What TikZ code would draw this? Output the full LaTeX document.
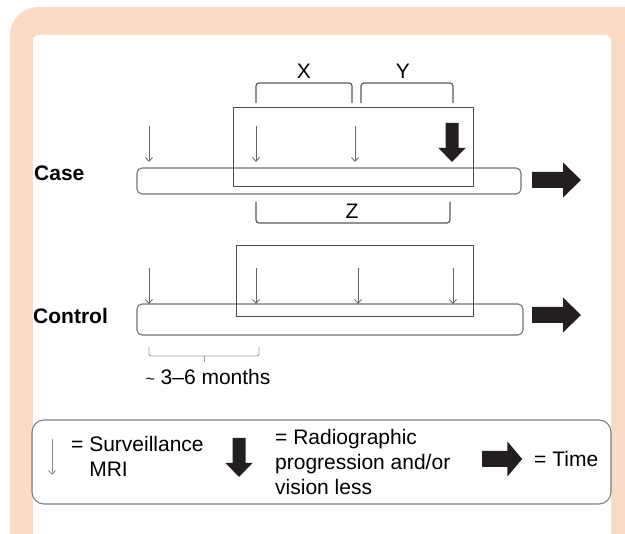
\documentclass[tikz,border=0pt]{standalone}
\usepackage{fontspec}
\setmainfont{Liberation Sans}
\usetikzlibrary{arrows.meta}

\definecolor{panelpeach}{RGB}{252,219,198}
\definecolor{arrowblack}{RGB}{35,31,32}

\tikzset{
  mri/.style={draw=black!60, line width=0.8pt, -{Straight Barb[length=4pt,width=7pt]}},
  timebar/.style={draw=black!55, line width=1.1pt, rounded corners=5pt},
  window/.style={draw=black!70, line width=1pt},
  brace/.style={draw=black!65, line width=1.2pt, rounded corners=3pt},
  lbl/.style={font=\fontsize{21}{25}\selectfont, inner sep=0pt},
  pics/timearrow/.style={code={
    \fill[arrowblack] (0,-8) -- (31,-8) -- (31,-17.5) -- (49,0) -- (31,17.5) -- (31,8) -- (0,8) -- cycle;}},
  pics/progarrow/.style={code={
    \fill[arrowblack] (-6.5,0) -- (6.5,0) -- (6.5,25) -- (13.5,25) -- (0,39) -- (-13.5,25) -- (-6.5,25) -- cycle;}},
}

\begin{document}
\begin{tikzpicture}[x=1pt, y=-1pt]
    \useasboundingbox (0,0) rectangle (625,534);
    \clip (0,0) rectangle (625,534);

    % Panel
    \fill[panelpeach, rounded corners=28pt] (10,7) rectangle (680,600);
    \fill[white, rounded corners=6pt] (33,35) rectangle (611,600);

    % Case row
    \node[lbl, anchor=west, font=\fontsize{21}{25}\selectfont\bfseries] (case) at (34,173) {Case};
    \draw[timebar] (137,168) rectangle (521,194);
    \draw[window] (233,108) rectangle (473,187);
    \foreach \x in {149,256,355}
        \draw[mri] (\x,126) -- (\x,162);
    \pic at (452,123) {progarrow};
    \pic at (532,180) {timearrow};

    % Intervals X, Y and Z
    \draw[brace] (256,103) -- (256,83) -- (352,83) -- (352,103);
    \draw[brace] (361,103) -- (361,83) -- (453,83) -- (453,103);
    \draw[brace] (256,202) -- (256,223) -- (450,223) -- (450,202);
    \node[lbl] (xlbl) at (304,71) {X};
    \node[lbl] (ylbl) at (403,71) {Y};
    \node[lbl] (zlbl) at (352,211) {Z};

    % Control row
    \node[lbl, anchor=west, font=\fontsize{21}{25}\selectfont\bfseries] (control) at (33,316) {Control};
    \draw[timebar] (137,304) rectangle (523,335);
    \draw[window] (236,246) rectangle (473,317);
    \foreach \x in {149,256,358,453}
        \draw[mri] (\x,268) -- (\x,304);
    \pic at (532,315) {timearrow};

    % Scan interval
    \draw[black!40, line width=0.8pt, rounded corners=2pt] (149,347) -- (149,356) -- (259,356) -- (259,347);
    \draw[black!40, line width=0.8pt] (204,356) -- (204,362);
    \node[lbl] (months) at (208,377) {{\fontsize{16}{18}\selectfont\textasciitilde} 3--6 months};

    % Legend
    \draw[black!50, line width=1.1pt, rounded corners=12pt] (32,420) rectangle (611,504);
    \draw[mri, draw=black!45] (52,439) -- (52,475);
    \node[lbl, anchor=west, align=left] (mrikey) at (71,456) {= Surveillance\\\phantom{= }MRI};
    \pic at (239,438) {progarrow};
    \node[lbl, anchor=west, align=left] (progkey) at (275,462) {= Radiographic\\progression and/or\\vision less};
    \pic[xscale=0.82] at (482,459) {timearrow};
    \node[lbl, anchor=west] (timekey) at (534,459) {= Time};
\end{tikzpicture}
\end{document}
